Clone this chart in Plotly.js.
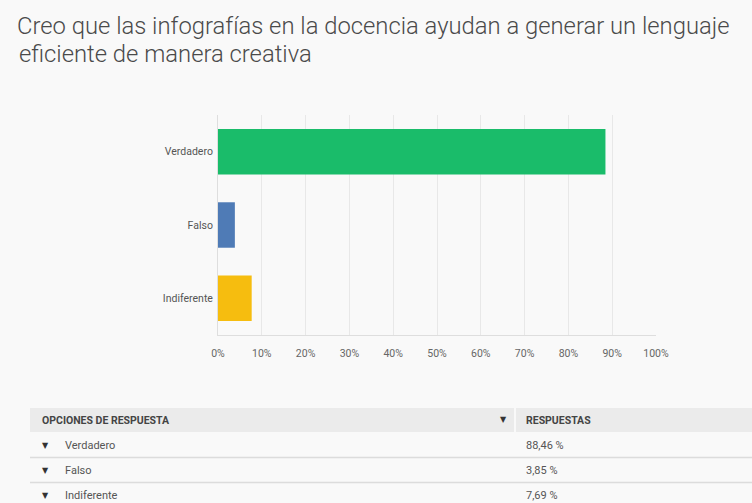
<!DOCTYPE html>
<html>
<head>
<meta charset="utf-8">
<script src="https://cdn.plot.ly/plotly-3.0.1.min.js"></script>
<style>html,body{margin:0;padding:0;background:#f9f9f9;}#chart{width:752px;height:503px;}</style>
</head>
<body>
<div id="chart"></div>
<script>
const titleLines = ['Creo que las infografías en la docencia ayudan a generar un lenguaje', 'eficiente de manera creativa'];
const categories = ['Verdadero', 'Falso', 'Indiferente'];
const percentages = [88.46, 3.85, 7.69];
const barColors = ['#1abc6a', '#4f7bb6', '#f6bd0f'];
const tickValues = [0, 10, 20, 30, 40, 50, 60, 70, 80, 90, 100];
const tickLabels = tickValues.map(v => v + '%');
const tableHeaders = ['OPCIONES DE RESPUESTA', 'RESPUESTAS'];
const tableValues = percentages.map(v => v.toFixed(2).replace('.', ',') + ' %');

const W = 752, H = 503;
const px = x => x / W;
const py = y => 1 - y / H;

const fontFam = 'Roboto, "Noto Sans", sans-serif';
const titleFont = {family: fontFam, size: 23.8, color: '#4a4a4a', weight: 300};

const trace = {
  type: 'bar',
  orientation: 'h',
  y: categories,
  x: percentages,
  marker: {color: barColors},
  width: 0.62,
  hoverinfo: 'none'
};

const annotations = [];
const shapes = [];

// second title line
annotations.push({xref: 'paper', yref: 'paper', x: px(19), y: py(54), xanchor: 'left', yanchor: 'middle', showarrow: false,
  borderpad: 0, borderwidth: 0,
  text: titleLines[1], font: titleFont});

// table header background
shapes.push({type: 'rect', xref: 'paper', yref: 'paper', x0: px(30), x1: px(514), y0: py(432), y1: py(408), fillcolor: '#ebebeb', line: {width: 0}, layer: 'below'});
shapes.push({type: 'rect', xref: 'paper', yref: 'paper', x0: px(516), x1: px(752), y0: py(432), y1: py(408), fillcolor: '#ebebeb', line: {width: 0}, layer: 'below'});

annotations.push({xref: 'paper', yref: 'paper', x: px(40), y: py(420), xanchor: 'left', yanchor: 'middle', showarrow: false,
  text: '<b>' + tableHeaders[0] + '</b>', font: {family: fontFam, size: 10.5, color: '#444'}});
annotations.push({xref: 'paper', yref: 'paper', x: px(503), y: py(419), xanchor: 'center', yanchor: 'middle', showarrow: false,
  text: '▼', font: {family: '"DejaVu Sans", sans-serif', size: 8, color: '#333'}});
annotations.push({xref: 'paper', yref: 'paper', x: px(524), y: py(420), xanchor: 'left', yanchor: 'middle', showarrow: false,
  text: '<b>' + tableHeaders[1] + '</b>', font: {family: fontFam, size: 10.5, color: '#444'}});

categories.forEach((c, i) => {
  const yc = 445 + i * 25;
  annotations.push({xref: 'paper', yref: 'paper', x: px(45), y: py(yc), xanchor: 'center', yanchor: 'middle', showarrow: false,
    text: '▼', font: {family: '"DejaVu Sans", sans-serif', size: 8, color: '#333'}});
  annotations.push({xref: 'paper', yref: 'paper', x: px(63), y: py(yc), xanchor: 'left', yanchor: 'middle', showarrow: false,
    text: c, font: {family: fontFam, size: 11, color: '#555'}});
  annotations.push({xref: 'paper', yref: 'paper', x: px(524), y: py(yc), xanchor: 'left', yanchor: 'middle', showarrow: false,
    text: tableValues[i], font: {family: fontFam, size: 11, color: '#555'}});
  if (i < categories.length - 1) {
    shapes.push({type: 'line', xref: 'paper', yref: 'paper', x0: px(30), x1: 1, y0: py(yc + 12.5), y1: py(yc + 12.5), line: {color: '#dcdcdc', width: 1.5}});
  }
});

const layout = {
  width: W, height: H,
  paper_bgcolor: '#f9f9f9',
  plot_bgcolor: '#f9f9f9',
  margin: {l: 0, r: 0, t: 0, b: 0},
  showlegend: false,
  title: {
    text: titleLines[0],
    xref: 'paper', yref: 'paper',
    x: px(17), xanchor: 'left',
    y: py(25.5), yanchor: 'middle',
    font: titleFont
  },
  xaxis: {
    domain: [px(218), px(656)],
    range: [0, 100],
    tickvals: tickValues,
    ticktext: tickLabels,
    showgrid: true,
    gridcolor: '#e8e8e8',
    gridwidth: 1,
    zeroline: false,
    showline: true,
    linecolor: '#dedede',
    ticks: '',
    ticklabelstandoff: 8,
    tickfont: {family: fontFam, size: 10.5, color: '#666'},
    fixedrange: true
  },
  yaxis: {
    domain: [py(335), py(115)],
    autorange: 'reversed',
    showline: true,
    linecolor: '#dedede',
    showgrid: false,
    ticks: '',
    ticklabelstandoff: 2,
    tickfont: {family: fontFam, size: 10.5, color: '#555'},
    fixedrange: true
  },
  annotations: annotations,
  shapes: shapes
};

Plotly.newPlot('chart', [trace], layout, {displayModeBar: false, staticPlot: true});
</script>
</body>
</html>
